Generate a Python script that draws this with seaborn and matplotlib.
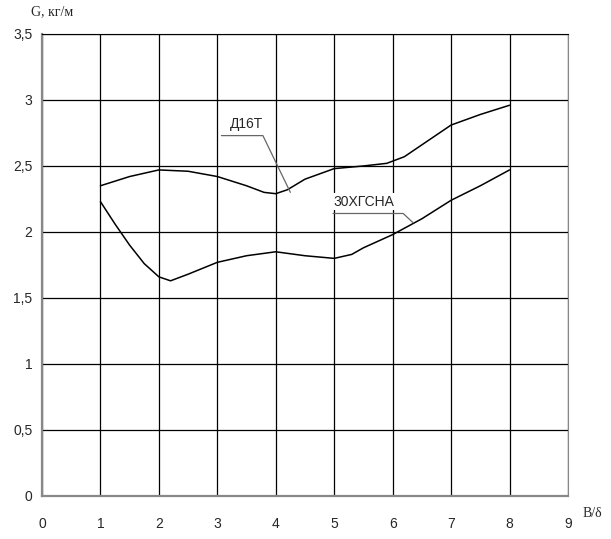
import numpy as np
import pandas as pd
import matplotlib
matplotlib.use("Agg")
import matplotlib.pyplot as plt
import seaborn as sns

# values
x_d16t = [1.0, 1.5, 2.0, 2.5, 3.0, 3.5, 3.8, 4.0, 4.2, 4.5, 5.0, 5.5, 5.9, 6.2, 6.5, 7.0, 7.5, 8.0]
g_d16t = [2.35, 2.42, 2.47, 2.46, 2.42, 2.35, 2.30, 2.29, 2.32, 2.40, 2.48, 2.50, 2.52, 2.57, 2.66, 2.81, 2.89, 2.96]

x_30hgsna = [1.0, 1.25, 1.5, 1.75, 2.0, 2.2, 2.5, 3.0, 3.5, 4.0, 4.5, 5.0, 5.3, 5.5, 6.0, 6.5, 7.0, 7.5, 8.0]
g_30hgsna = [2.23, 2.06, 1.90, 1.76, 1.66, 1.63, 1.68, 1.77, 1.82, 1.85, 1.82, 1.80, 1.83, 1.88, 1.98, 2.10, 2.24, 2.35, 2.47]

x_ticks = [0, 1, 2, 3, 4, 5, 6, 7, 8, 9]
y_ticks = [0, 0.5, 1, 1.5, 2, 2.5, 3, 3.5]
y_labels = ["0", "0,5", "1", "1,5", "2", "2,5", "3", "3,5"]

df = pd.concat([
    pd.DataFrame({"x": x_d16t, "G": g_d16t, "series": "Д16Т"}),
    pd.DataFrame({"x": x_30hgsna, "G": g_30hgsna, "series": "30ХГСНА"}),
])

sns.set_style("white")
plt.rcParams["font.family"] = ["Liberation Sans", "DejaVu Sans"]

fig = plt.figure(figsize=(6.11, 5.39), dpi=100)
ax = fig.add_axes([0.0687, 0.0798, 0.8609, 0.8572])

sns.lineplot(data=df, x="x", y="G", units="series", estimator=None, sort=False,
             color="black", linewidth=1.1, ax=ax, legend=False)

ax.set_xlim(0, 9)
ax.set_ylim(0, 3.5)
ax.set_xticks(x_ticks)
ax.set_xticklabels([str(t) for t in x_ticks], fontsize=10)
ax.set_yticks(y_ticks)
ax.set_yticklabels(y_labels, fontsize=10)
ax.grid(True, color="black", linewidth=0.9)
ax.tick_params(axis="x", length=4, width=0.8, color="#777777", direction="out", pad=11)
ax.tick_params(axis="y", length=4, width=0.8, color="#777777", direction="out", pad=3)
for side in ["left", "bottom"]:
    ax.spines[side].set_color("#888888")
    ax.spines[side].set_linewidth(1.6)
ax.spines["top"].set_color("black")
ax.spines["right"].set_color("#888888")
ax.set_xlabel("")
ax.set_ylabel("")

serif = ["Liberation Serif", "DejaVu Serif"]
fig.text(0.051, 0.978, "G, кг/м", family=serif, fontsize=10, va="center", ha="left")
fig.text(0.954, 0.048, "В/δ", family=serif, fontsize=10, va="center", ha="left")

# leader annotations
ax.text(3.22, 2.82, "Д16Т", fontsize=10, ha="left", va="center")
ax.plot([3.07, 3.78, 4.25], [2.73, 2.73, 2.30], color="#666666", linewidth=0.9)
ax.text(4.98, 2.23, "30ХГСНА", fontsize=10, ha="left", va="center",
        bbox=dict(facecolor="white", edgecolor="none", pad=1))
ax.plot([4.98, 6.18, 6.35], [2.14, 2.14, 2.07], color="#666666", linewidth=0.9)

fig.savefig("out.png", dpi=100)
